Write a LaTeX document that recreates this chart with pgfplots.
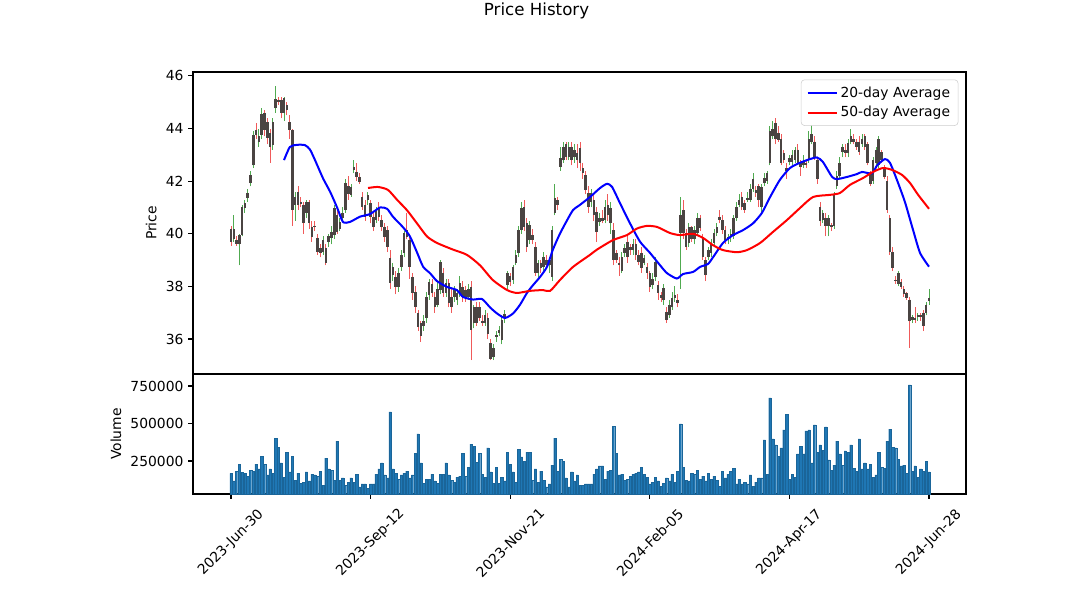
\documentclass[border=0pt]{standalone}
\usepackage{pgfplots}
\pgfplotsset{compat=1.18}
\usepackage{pgfplotstable}
\usepackage{fontspec}
\setmainfont{DejaVu Sans}
\definecolor{upc}{RGB}{80,170,80}
\definecolor{dnc}{RGB}{240,90,90}
\definecolor{bodyc}{RGB}{74,68,66}
\definecolor{volc}{RGB}{31,119,180}
\definecolor{legc}{RGB}{204,204,204}
\pgfplotstableread{
i o h l c d
0 40.20 40.30 39.55 39.70 0
1 39.80 40.70 39.70 40.20 1
2 39.75 39.90 39.55 39.60 0
3 39.60 40.00 38.80 39.95 1
4 39.95 41.10 39.90 41.00 1
5 40.98 41.30 40.80 41.17 1
6 41.36 41.70 41.20 41.55 1
7 41.93 42.40 41.80 42.24 1
8 42.60 43.90 42.50 43.76 1
9 43.95 44.20 43.60 43.76 0
10 43.50 44.00 43.30 43.70 1
11 43.76 44.80 43.60 44.55 1
12 44.60 44.70 43.70 43.95 0
13 44.25 44.40 43.40 43.64 0
14 43.83 44.00 42.70 43.30 0
15 43.38 44.40 43.20 44.25 1
16 44.78 45.60 44.60 45.13 1
17 45.10 45.20 44.90 45.00 0
18 45.10 45.20 44.40 44.60 0
19 44.60 45.20 44.30 45.15 1
20 44.90 45.00 44.50 44.70 0
21 44.25 44.50 43.60 43.95 0
22 43.95 44.00 40.30 40.90 0
23 41.10 41.60 40.50 41.40 1
24 41.60 41.80 40.90 41.10 0
25 41.20 41.40 41.00 41.15 0
26 41.10 41.20 40.00 40.40 0
27 40.80 41.30 40.60 41.20 1
28 41.20 41.30 40.20 40.40 0
29 40.26 40.50 39.70 39.88 0
30 40.30 40.50 40.10 40.25 0
31 39.84 40.00 39.20 39.30 0
32 39.46 39.60 39.10 39.27 0
33 39.30 39.90 39.20 39.76 1
34 39.46 39.60 38.80 38.90 0
35 39.70 40.00 39.50 39.90 1
36 39.84 40.30 39.60 40.07 1
37 39.95 41.10 39.80 40.98 1
38 40.70 40.90 40.00 40.07 0
39 40.20 40.60 40.10 40.45 1
40 40.60 41.00 40.50 40.80 1
41 40.90 42.10 40.80 41.93 1
42 41.80 42.20 41.30 41.50 0
43 41.48 41.90 41.40 41.78 1
44 42.43 42.80 42.30 42.54 1
45 42.35 42.70 42.00 42.16 0
46 42.16 42.30 41.90 41.97 0
47 41.40 41.60 40.90 41.02 0
48 41.10 41.30 40.50 40.64 0
49 41.30 41.60 41.10 41.48 1
50 41.17 41.30 40.40 40.64 0
51 40.64 40.80 40.10 40.26 0
52 40.52 41.00 40.40 40.90 1
53 41.00 41.20 40.50 40.64 0
54 40.52 40.70 40.10 40.26 0
55 40.26 40.40 39.70 39.88 0
56 40.14 40.30 39.30 39.50 0
57 39.08 39.40 37.90 38.13 0
58 38.43 38.90 38.20 38.74 1
59 38.36 38.60 37.70 37.98 0
60 37.98 38.70 37.80 38.50 1
61 38.74 39.40 38.60 39.20 1
62 39.27 40.10 39.10 40.03 1
63 40.14 40.80 39.80 39.88 0
64 39.76 39.90 38.30 38.74 0
65 38.36 38.50 37.50 37.75 0
66 37.79 38.00 37.00 37.20 0
67 37.00 37.10 36.30 36.46 0
68 36.60 36.70 35.90 36.10 0
69 36.50 36.90 36.30 36.70 1
70 36.80 37.80 36.60 37.60 1
71 37.67 38.30 37.50 38.17 1
72 38.10 38.30 37.60 37.75 0
73 37.60 37.80 37.00 37.20 0
74 37.30 38.20 37.20 37.90 1
75 37.86 39.00 37.70 38.93 1
76 38.50 38.70 37.60 37.75 0
77 37.75 38.30 37.60 38.13 1
78 38.13 38.30 37.20 37.37 0
79 37.60 37.90 37.00 37.20 0
80 37.60 38.00 37.40 37.86 1
81 37.50 37.90 37.30 37.75 1
82 37.75 38.40 37.60 38.13 1
83 37.98 38.20 37.40 37.60 0
84 37.86 38.00 37.40 37.60 0
85 37.60 38.10 37.50 37.90 1
86 37.98 38.20 35.20 36.34 0
87 36.60 37.30 36.40 37.20 1
88 37.20 37.40 36.50 36.60 0
89 37.20 37.40 36.70 36.80 0
90 36.70 36.90 36.50 36.60 0
91 36.60 37.10 36.50 36.90 1
92 36.80 37.00 36.00 36.20 0
93 35.85 36.00 35.20 35.25 0
94 35.30 35.80 35.20 35.66 1
95 36.08 36.30 35.90 36.15 1
96 36.23 36.50 36.10 36.34 1
97 35.96 36.90 35.80 36.72 1
98 36.80 37.10 36.60 36.95 1
99 38.05 38.60 37.90 38.50 1
100 38.40 38.50 38.00 38.15 0
101 38.24 38.80 38.10 38.74 1
102 38.90 39.40 38.80 39.20 1
103 39.27 40.30 39.10 40.14 1
104 40.14 41.20 40.00 40.98 1
105 41.00 41.30 40.10 40.26 0
106 40.40 40.60 39.30 39.50 0
107 39.76 40.50 39.60 40.33 1
108 39.95 40.20 39.60 39.76 0
109 39.50 39.70 38.40 38.50 0
110 38.50 39.00 38.30 38.90 1
111 38.90 39.00 38.50 38.70 0
112 38.74 39.30 38.60 39.10 1
113 39.00 39.20 38.70 38.80 0
114 38.80 39.10 38.50 39.00 1
115 38.36 40.30 38.20 40.14 1
116 40.80 41.90 40.70 41.36 1
117 41.28 41.40 40.90 41.10 0
118 42.54 43.30 42.40 42.88 1
119 42.80 43.50 42.70 43.30 1
120 43.40 43.50 42.80 42.90 0
121 42.90 43.50 42.80 43.30 1
122 43.30 43.50 42.60 42.80 0
123 42.90 43.40 42.70 43.20 1
124 43.07 43.40 42.50 42.80 0
125 43.26 43.50 42.40 42.70 0
126 42.50 42.70 42.10 42.30 0
127 42.24 42.40 41.50 41.67 0
128 41.55 41.80 40.80 41.02 0
129 41.20 41.70 41.00 41.55 1
130 41.28 41.50 40.50 40.70 0
131 40.83 41.00 39.70 40.07 0
132 40.45 40.80 40.30 40.60 1
133 40.60 40.90 40.40 40.50 0
134 40.52 41.30 40.40 41.02 1
135 41.10 41.50 40.50 40.70 0
136 40.40 41.20 40.00 40.98 1
137 40.14 40.40 38.80 39.00 0
138 39.27 39.40 38.90 39.00 0
139 38.90 39.10 38.40 38.80 0
140 38.60 39.30 38.50 39.10 1
141 39.27 39.60 39.10 39.46 1
142 39.70 39.90 38.90 39.10 0
143 39.50 39.60 39.20 39.38 0
144 39.38 39.80 39.20 39.62 1
145 39.62 39.80 39.00 39.20 0
146 39.20 39.40 38.80 38.93 0
147 39.27 39.50 38.50 38.70 0
148 38.90 39.20 38.80 39.08 1
149 38.74 38.90 38.30 38.50 0
150 38.50 38.60 37.80 37.98 0
151 38.05 38.50 37.90 38.30 1
152 38.36 39.10 38.20 38.93 1
153 38.05 38.20 37.50 37.75 0
154 37.67 37.80 37.40 37.56 0
155 37.48 38.10 37.30 37.94 1
156 37.03 37.20 36.60 36.72 0
157 36.90 37.50 36.80 37.30 1
158 37.20 37.80 37.10 37.56 1
159 37.56 38.00 37.40 37.67 1
160 37.48 37.70 37.20 37.37 0
161 40.03 41.40 37.90 40.70 1
162 40.90 41.30 39.80 40.03 0
163 40.03 40.20 39.40 39.50 0
164 39.65 40.40 39.50 40.26 1
165 40.26 40.30 39.70 39.80 0
166 39.80 40.30 39.60 40.14 1
167 40.03 40.80 39.90 40.60 1
168 40.60 40.70 40.10 40.22 0
169 39.88 40.00 39.00 39.12 0
170 39.00 39.10 38.20 38.43 0
171 39.12 39.50 39.00 39.38 1
172 39.27 39.80 39.10 39.65 1
173 39.65 40.20 39.50 40.03 1
174 40.03 40.40 39.90 40.26 1
175 40.64 40.90 40.40 40.52 0
176 40.52 40.70 40.00 40.14 0
177 40.14 40.30 39.60 39.76 0
178 39.76 40.00 39.60 39.88 1
179 39.90 40.20 39.70 40.00 1
180 39.90 40.70 39.80 40.60 1
181 40.60 41.20 40.50 41.00 1
182 41.10 41.50 41.00 41.28 1
183 41.40 41.60 40.90 41.00 0
184 41.17 41.30 40.80 40.90 0
185 41.30 41.60 41.20 41.36 1
186 41.30 41.90 41.20 41.70 1
187 41.70 42.30 41.60 42.10 1
188 41.67 41.80 41.40 41.55 0
189 41.80 41.90 41.00 41.30 0
190 41.02 41.90 40.80 41.78 1
191 41.93 42.30 41.80 42.12 1
192 42.00 42.40 41.90 42.30 1
193 42.70 44.10 42.60 43.90 1
194 43.70 44.30 43.60 44.00 1
195 44.20 44.40 43.40 43.60 0
196 43.83 44.10 43.50 43.57 0
197 43.60 43.80 42.60 42.70 0
198 43.07 43.20 42.70 42.80 0
199 42.50 42.70 42.10 42.40 0
200 42.73 43.00 42.60 42.88 1
201 42.73 43.20 42.60 43.00 1
202 42.80 43.30 42.70 43.20 1
203 43.20 43.40 42.60 42.70 0
204 42.70 42.80 42.20 42.54 0
205 42.60 43.00 42.50 42.73 1
206 42.70 42.80 42.50 42.60 0
207 42.80 43.90 42.70 43.60 1
208 43.50 44.30 43.40 43.80 1
209 43.50 43.70 42.80 42.90 0
210 42.80 42.90 41.90 42.10 0
211 41.00 41.20 40.30 40.50 0
212 40.52 40.90 40.40 40.80 1
213 40.60 40.80 39.90 40.30 0
214 40.30 40.70 39.90 40.60 1
215 40.33 40.40 40.10 40.26 0
216 40.30 41.60 40.20 41.50 1
217 41.80 42.40 41.70 42.20 1
218 42.20 42.90 42.10 42.70 1
219 43.10 43.40 42.90 43.30 1
220 43.20 43.40 42.90 43.07 0
221 43.07 43.60 42.90 43.45 1
222 43.50 44.00 43.40 43.70 1
223 43.60 43.80 43.40 43.50 0
224 43.50 43.60 43.20 43.30 0
225 43.50 43.70 43.00 43.10 0
226 43.40 43.80 43.30 43.60 1
227 43.70 43.80 43.20 43.30 0
228 43.40 43.50 42.60 42.70 0
229 42.30 42.40 41.80 41.90 0
230 42.00 42.90 41.90 42.80 1
231 42.70 43.30 42.60 43.20 1
232 42.60 43.70 42.50 43.60 1
233 43.10 43.20 42.70 42.80 0
234 42.50 42.60 42.10 42.16 0
235 42.00 42.20 40.80 40.90 0
236 40.60 40.70 39.20 39.30 0
237 39.30 39.50 38.60 38.70 0
238 38.25 38.40 38.10 38.20 0
239 38.10 38.60 38.00 38.50 1
240 38.17 38.30 37.90 37.98 0
241 37.90 38.00 37.60 37.70 0
242 37.75 37.80 37.50 37.56 0
243 37.50 37.60 35.66 36.70 0
244 36.72 36.90 36.60 36.84 1
245 36.80 37.20 36.60 36.72 0
246 36.84 37.00 36.70 36.90 1
247 36.90 37.00 36.70 36.84 0
248 37.00 37.10 36.30 36.50 0
249 37.00 37.40 36.90 37.30 1
250 37.45 37.90 37.30 37.55 1
}\candles
\pgfplotstableread{
i v
0 168000
1 117000
2 183000
3 230000
4 175000
5 168000
6 150000
7 190000
8 183000
9 230000
10 197000
11 283000
12 230000
13 157000
14 197000
15 170000
16 403000
17 343000
18 237000
19 143000
20 310000
21 177000
22 283000
23 123000
24 170000
25 103000
26 110000
27 177000
28 117000
29 163000
30 157000
31 150000
32 183000
33 90000
34 270000
35 197000
36 190000
37 123000
38 383000
39 123000
40 137000
41 90000
42 110000
43 137000
44 110000
45 163000
46 77000
47 97000
48 97000
49 70000
50 97000
51 97000
52 163000
53 197000
54 237000
55 157000
56 137000
57 577000
58 197000
59 170000
60 130000
61 157000
62 170000
63 183000
64 137000
65 157000
66 303000
67 430000
68 237000
69 103000
70 130000
71 130000
72 163000
73 117000
74 103000
75 163000
76 163000
77 237000
78 157000
79 123000
80 110000
81 143000
82 150000
83 303000
84 150000
85 210000
86 363000
87 350000
88 243000
89 303000
90 163000
91 143000
92 337000
93 177000
94 103000
95 210000
96 103000
97 143000
98 117000
99 310000
100 230000
101 177000
102 110000
103 330000
104 277000
105 250000
106 310000
107 310000
108 123000
109 197000
110 110000
111 183000
112 123000
113 77000
114 97000
115 223000
116 403000
117 183000
118 263000
119 250000
120 137000
121 77000
122 177000
123 117000
124 157000
125 90000
126 90000
127 97000
128 97000
129 97000
130 163000
131 197000
132 217000
133 217000
134 130000
135 183000
136 190000
137 483000
138 303000
139 157000
140 163000
141 123000
142 130000
143 150000
144 163000
145 170000
146 177000
147 210000
148 163000
149 143000
150 97000
151 110000
152 143000
153 117000
154 83000
155 103000
156 137000
157 117000
158 163000
159 110000
160 183000
161 497000
162 210000
163 123000
164 117000
165 170000
166 163000
167 190000
168 130000
169 150000
170 117000
171 170000
172 130000
173 150000
174 123000
175 83000
176 183000
177 137000
178 163000
179 183000
180 203000
181 97000
182 130000
183 97000
184 110000
185 97000
186 157000
187 83000
188 110000
189 137000
190 137000
191 390000
192 163000
193 670000
194 397000
195 357000
196 283000
197 337000
198 457000
199 563000
200 130000
201 163000
202 143000
203 297000
204 350000
205 297000
206 450000
207 457000
208 237000
209 490000
210 310000
211 357000
212 323000
213 477000
214 257000
215 190000
216 223000
217 383000
218 297000
219 223000
220 317000
221 310000
222 357000
223 203000
224 183000
225 397000
226 197000
227 237000
228 197000
229 230000
230 143000
231 157000
232 310000
233 210000
234 203000
235 383000
236 463000
237 343000
238 337000
239 263000
240 217000
241 223000
242 170000
243 757000
244 183000
245 217000
246 143000
247 197000
248 183000
249 250000
250 177000
}\vols
\pgfplotstableread{
i m
19 42.8
21.1 43.3
23.6 43.38
26.5 43.37
28.3 43.2
30.1 42.8
33.0 42.1
35.5 41.6
38.0 41.0
40.1 40.45
42.6 40.45
46.2 40.65
49.8 40.75
53.4 41.0
55.9 40.95
58.0 40.65
61.6 40.25
64.1 39.9
66.6 39.3
68.8 38.75
71.3 38.5
73.8 38.2
77.4 37.98
80.9 37.86
83.1 37.6
86.7 37.5
89.9 37.52
92.8 37.2
95.3 36.97
98.1 36.8
101.0 36.97
103.5 37.3
106.0 37.75
108.2 38.05
110.7 38.36
113.2 38.75
115.3 39.4
117.8 40.0
120.3 40.5
122.5 40.9
125.0 41.1
128.6 41.4
132.2 41.74
134.7 41.9
136.5 41.78
139.3 41.17
142.9 40.4
146.5 39.7
150.1 39.27
153.7 38.8
156.2 38.5
159.7 38.3
161.9 38.47
165.5 38.55
168.0 38.74
170.8 38.85
172.6 39.1
176.2 39.65
179.8 39.95
183.4 40.14
187.0 40.4
190.2 40.8
193.1 41.4
196.6 42.05
200.2 42.5
203.8 42.7
207.4 42.84
209.9 42.9
212.0 42.73
215.3 42.16
217.1 42.08
220.6 42.16
224.2 42.27
226.0 42.35
229.6 42.3
231.4 42.6
234.2 42.84
236.0 42.7
238.5 42.05
241.4 41.2
244.3 40.14
246.8 39.27
250 38.75
}\maA
\pgfplotstableread{
i m
49.1 41.74
52.6 41.78
56.2 41.67
59.5 41.29
63.0 40.9
66.6 40.4
70.2 39.9
73.8 39.65
79.5 39.4
84.5 39.2
89.2 38.8
93.8 38.24
98.9 37.86
102.4 37.75
107.1 37.83
111.7 37.86
114.3 37.83
117.8 38.24
122.5 38.74
128.6 39.2
131.1 39.4
136.8 39.76
141.8 39.95
145.4 40.2
149.0 40.3
152.6 40.26
157.2 40.03
160.8 39.95
165.5 40.0
169.1 39.84
172.6 39.57
176.2 39.38
181.2 39.3
184.8 39.38
189.5 39.65
194.1 40.07
199.1 40.52
203.8 40.98
208.5 41.4
214.6 41.48
218.1 41.55
221.7 41.86
226.4 42.12
229.9 42.35
233.5 42.5
236.7 42.43
240.3 42.24
243.2 41.93
246.1 41.48
250 40.95
}\maB
\pgfplotsset{
  common/.style={
    scale only axis, width=579.75pt,
    xmin=-13.6, xmax=263.25,
    font=\fontsize{10.4}{12.5}\selectfont,
    /pgf/number format/assume math mode=true,
    tick align=outside, major tick length=3.65pt,
    tick style={black, line width=0.8pt},
    axis line style={line width=0.8pt},
    tick pos=left,
    clip=true,
  }
}
\begin{document}
\begin{tikzpicture}
\path[use as bounding box] (0,0) rectangle (804.75pt,452.25pt);
\begin{axis}[common,
  at={(144.75pt,171.75pt)}, anchor=south west,
  height=226.5pt,
  ymin=34.67, ymax=46.15,
  xtick=\empty,
  ytick={36,38,40,42,44,46},
  ylabel={Price},
  legend style={at={(0.99,0.975)}, anchor=north east, draw=legc, rounded corners=2.5pt, fill=white,
    font=\fontsize{10.4}{12.5}\selectfont, inner xsep=4pt, inner ysep=3pt, row sep=1.5pt},
  legend cell align=left,
  legend image code/.code={\draw[#1] (0pt,0pt) -- (22pt,0pt);},
]
\addplot[forget plot, draw=upc, line width=0.7pt, quiver={u=0, v=(\thisrow{h}-\thisrow{l})*\thisrow{d}}] table[x=i, y=l] {\candles};
\addplot[forget plot, draw=dnc, line width=0.7pt, quiver={u=0, v=(\thisrow{h}-\thisrow{l})*(1-\thisrow{d})}] table[x=i, y=l] {\candles};
\addplot[forget plot, draw=bodyc, line width=1.9pt, quiver={u=0, v=\thisrow{c}-\thisrow{o}}] table[x=i, y=o] {\candles};
\addplot[draw={rgb,255:red,0;green,0;blue,255}, line width=1.5pt, smooth, tension=0.4] table[x=i, y=m] {\maA};
\addlegendentry{20-day Average}
\addplot[draw={rgb,255:red,255;green,0;blue,0}, line width=1.5pt, smooth, tension=0.4] table[x=i, y=m] {\maB};
\addlegendentry{50-day Average}
\end{axis}
\begin{axis}[common,
  at={(144.75pt,81.75pt)}, anchor=south west,
  height=90pt,
  ymin=30000, ymax=830000,
  xtick={0,50,100,150,200,250},
  xticklabels={2023-Jun-30,2023-Sep-12,2023-Nov-21,2024-Feb-05,2024-Apr-17,2024-Jun-28},
  xticklabel style={yshift=-33pt, rotate=45, anchor=center},
  ytick={250000,500000,750000},
  yticklabels={250000,500000,750000},
  scaled y ticks=false,
  ylabel={Volume},
]
\addplot[ybar, bar width=0.85, bar shift=0pt, fill=volc, draw=volc!85!black, line width=0.2pt] table[x=i, y=v] {\vols};
\end{axis}
\node[font=\fontsize{12.5}{15}\selectfont] at (402.4pt,444pt) {Price History};
\end{tikzpicture}
\end{document}
